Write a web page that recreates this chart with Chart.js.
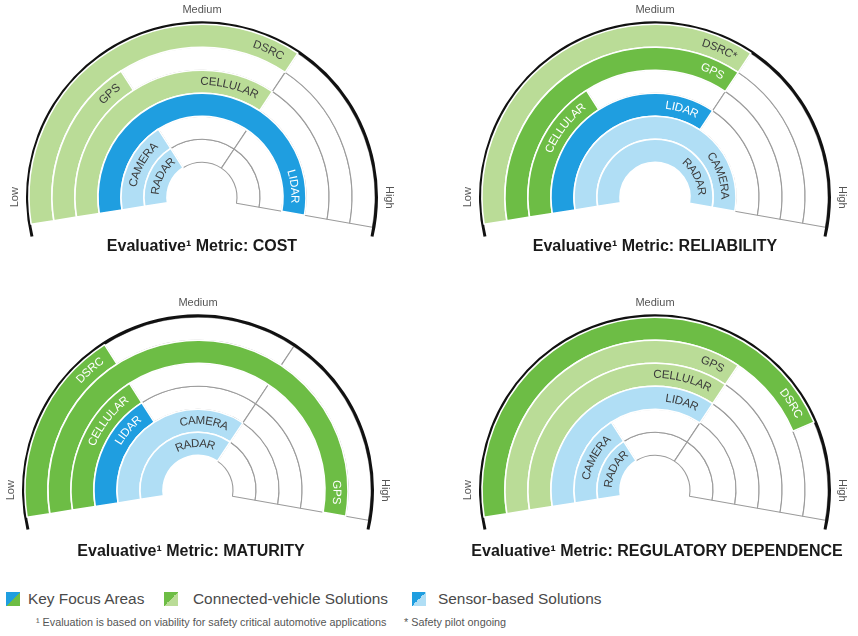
<!DOCTYPE html>
<html>
<head>
<meta charset="utf-8">
<script src="https://cdn.jsdelivr.net/npm/chart.js@4.4.1/dist/chart.umd.min.js"></script>
<style>
  body { margin: 0; background: #fff; width: 858px; height: 636px; position: relative; overflow: hidden;
         font-family: "Liberation Sans", Arial, sans-serif; }
  canvas { position: absolute; }
  .sw { position: absolute; width: 14px; height: 14px; }
  .lg { position: absolute; font-size: 15.4px; line-height: 16px; color: #4a4a4a; white-space: nowrap; }
  .fn { position: absolute; font-size: 10.8px; line-height: 12px; color: #555; white-space: nowrap; }
</style>
</head>
<body>
<canvas id="costChart" width="429" height="293" style="left:0;top:0"></canvas>
<canvas id="reliabilityChart" width="429" height="293" style="left:429px;top:0"></canvas>
<canvas id="maturityChart" width="429" height="293" style="left:0;top:293px"></canvas>
<canvas id="regulatoryChart" width="429" height="293" style="left:429px;top:293px"></canvas>

<div class="sw" style="left:6px;top:592px;background:linear-gradient(to bottom right,#1f9ee0 50%,#6dbd45 50%)"></div>
<div class="lg" style="left:28px;top:591px">Key Focus Areas</div>
<div class="sw" style="left:164px;top:592px;background:linear-gradient(to bottom right,#6dbd45 50%,#badc97 50%)"></div>
<div class="lg" style="left:193px;top:591px">Connected-vehicle Solutions</div>
<div class="sw" style="left:412px;top:592px;background:linear-gradient(to bottom right,#1f9ee0 50%,#b0def5 50%)"></div>
<div class="lg" style="left:438px;top:591px">Sensor-based Solutions</div>
<div class="fn" style="left:36px;top:616px">¹ Evaluation is based on viability for safety critical automotive applications</div>
<div class="fn" style="left:404px;top:616px">* Safety pilot ongoing</div>

<script>
// ---------- DATA ----------
const technologies = ['DSRC', 'GPS', 'CELLULAR', 'LIDAR', 'CAMERA', 'RADAR'];
const techGroups = ['connected', 'connected', 'connected', 'sensor', 'sensor', 'sensor'];
const scaleLabels = ['Low', 'Medium', 'High'];
const scaleMax = 3; // Low = 0 ... High = 3

const metrics = ['COST', 'RELIABILITY', 'MATURITY', 'REGULATORY DEPENDENCE'];

const costRatings = [2, 1, 2, 3, 1, 1];
const reliabilityRatings = [2, 2, 1, 2, 3, 3];
const maturityRatings = [1, 3, 1, 1, 2, 2];
const regulatoryRatings = [2.5, 2, 2, 2, 1, 1];

// key focus areas (drawn in the strong colour)
const costFocus = [false, false, false, true, false, false];
const reliabilityFocus = [false, true, true, true, false, false];
const maturityFocus = [true, true, true, true, false, false];
const regulatoryFocus = [true, false, false, false, false, false];

// footnote markers
const reliabilityNotes = ['*', '', '', '', '', ''];
const noNotes = ['', '', '', '', '', ''];

// ---------- STYLE ----------
const colors = {
  connected: { focus: '#6dbd45', other: '#badc97' },
  sensor: { focus: '#1f9ee0', other: '#b0def5' },
  empty: '#ffffff',
  emptyLine: '#9b9b9b',
  rim: '#111111'
};
const R = 176;            // outer radius of the black rim
const RIM_W = 3;
const RING_W = 23;
const HOLE = 35;
const RING_ROT = -99, RING_CIRC = 199;
const RIM_ROT = -103, RIM_CIRC = 206;
const CELL_W = 429, CELL_H = 293;
const FONT = '"Liberation Sans", Arial, sans-serif';

// split the unused part of a ring at every whole step so the grid lines show
function segmentsFor(rating) {
  const segs = [rating];
  let pos = rating;
  while (pos < scaleMax - 1e-9) {
    const next = Math.min(Math.floor(pos + 1e-9) + 1, scaleMax);
    segs.push(next - pos);
    pos = next;
  }
  return segs;
}

function curvedText(ctx, text, cx, cy, r, mid) {
  const chars = Array.from(text);
  const widths = chars.map(c => ctx.measureText(c).width);
  const total = widths.reduce((a, b) => a + b, 0);
  let a = mid - total / 2 / r;
  chars.forEach((ch, k) => {
    const ang = a + widths[k] / 2 / r;
    ctx.save();
    ctx.translate(cx + r * Math.cos(ang), cy + r * Math.sin(ang));
    ctx.rotate(ang + Math.PI / 2);
    ctx.fillText(ch, 0, 0);
    ctx.restore();
    a += widths[k] / r;
  });
  return total;
}

const gaugeDecor = {
  id: 'gaugeDecor',
  afterDatasetsDraw(chart, args, opts) {
    const ctx = chart.ctx;
    const n = chart.data.datasets.length;

    // filled parts on top, their white edges hide the grey outlines
    for (let i = 1; i < n; i++) chart.getDatasetMeta(i).data[0].draw(ctx);

    ctx.save();
    ctx.textAlign = 'center';
    ctx.textBaseline = 'middle';

    // ring labels, near the end of each filled part
    ctx.font = '11.5px ' + FONT;
    for (let i = 1; i < n; i++) {
      const el = chart.getDatasetMeta(i).data[0];
      const ds = chart.data.datasets[i];
      const r = (el.innerRadius + el.outerRadius) / 2;
      const w = Array.from(ds.label).reduce((s, c) => s + ctx.measureText(c).width, 0);
      const half = (w / 2 + 10) / r;
      const mid = Math.max(el.endAngle - half, el.startAngle + half);
      ctx.fillStyle = ds.labelColor;
      curvedText(ctx, ds.label, el.x, el.y, r, mid);
    }

    // Low / Medium / High
    const rim = chart.getDatasetMeta(0).data[0];
    const rr = rim.outerRadius + 11;
    ctx.font = '11px ' + FONT;
    ctx.fillStyle = '#555';
    scaleLabels.forEach((t, k) => {
      const a = -Math.PI + k * Math.PI / 2;
      ctx.save();
      ctx.translate(rim.x + rr * Math.cos(a), rim.y + rr * Math.sin(a));
      ctx.rotate(a + Math.PI / 2);
      ctx.fillText(t, 0, 0);
      ctx.restore();
    });

    // title
    ctx.font = 'bold 16px ' + FONT;
    ctx.fillStyle = '#1a1a1a';
    ctx.fillText('Evaluative\u00B9 Metric: ' + opts.metric, opts.titleX, opts.titleY);
    ctx.restore();
  }
};

function makeChart(id, metric, ratings, focus, notes, cx, cy, titleX, titleY) {
  const datasets = [{
    label: '',
    data: [1],
    backgroundColor: colors.rim,
    borderWidth: 0,
    hoverBorderWidth: 0,
    weight: RIM_W,
    rotation: RIM_ROT,
    circumference: RIM_CIRC,
    labelColor: '#000'
  }];

  technologies.forEach((tech, i) => {
    const segs = segmentsFor(ratings[i]);
    const fill = colors[techGroups[i]][focus[i] ? 'focus' : 'other'];
    datasets.push({
      label: tech + notes[i],
      data: segs,
      backgroundColor: segs.map((_, k) => k === 0 ? fill : colors.empty),
      borderColor: segs.map((_, k) => k === 0 ? '#ffffff' : colors.emptyLine),
      borderWidth: segs.map((_, k) => k === 0 ? 1.6 : 1.1),
      hoverBorderWidth: 0,
      weight: RING_W,
      rotation: RING_ROT,
      circumference: RING_CIRC,
      labelColor: focus[i] ? '#ffffff' : '#3b3b3b'
    });
  });

  // place the half-disc: chart area matches the rim's bounding box
  const below = Math.sin((RIM_CIRC / 2 - 90) * Math.PI / 180);
  const areaH = R * (1 + below) + 0.5;
  const top = cy - R;

  return new Chart(document.getElementById(id), {
    type: 'doughnut',
    data: { labels: segmentsFor(0).map((_, k) => 'step ' + k), datasets: datasets },
    options: {
      responsive: false,
      animation: false,
      events: [],
      cutout: (HOLE / R * 100) + '%',
      layout: {
        padding: { left: cx - R, right: CELL_W - cx - R, top: top, bottom: CELL_H - top - areaH }
      },
      plugins: {
        legend: { display: false },
        tooltip: { enabled: false },
        gaugeDecor: { metric: metric, titleX: titleX, titleY: titleY }
      }
    },
    plugins: [gaugeDecor]
  });
}

makeChart('costChart', metrics[0], costRatings, costFocus, noNotes, 202, 197, 202, 247);
makeChart('reliabilityChart', metrics[1], reliabilityRatings, reliabilityFocus, reliabilityNotes, 226, 197, 226, 247);
makeChart('maturityChart', metrics[2], maturityRatings, maturityFocus, noNotes, 198, 197, 191, 259);
makeChart('regulatoryChart', metrics[3], regulatoryRatings, regulatoryFocus, noNotes, 226, 197, 228, 259);
</script>
</body>
</html>
